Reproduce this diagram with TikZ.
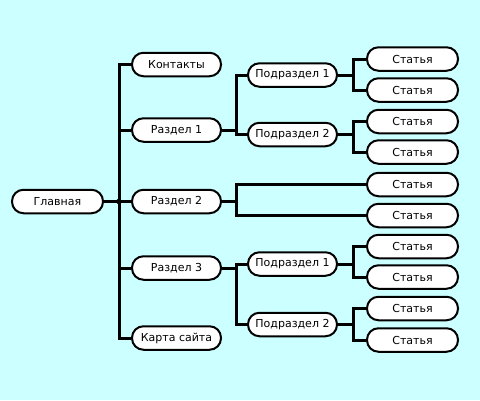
\documentclass[tikz,border=0pt]{standalone}
\usepackage{fontspec}
\setmainfont{DejaVu Sans}
\definecolor{bgcyan}{RGB}{204,255,255}
\begin{document}
\begin{tikzpicture}[x=1pt,y=-1pt,
  box/.style={draw=black, line width=2pt, fill=white, rounded corners=11.5pt,
    minimum height=23.5pt, inner sep=0pt, font=\fontsize{11}{13}\selectfont},
  sec/.style={box, minimum width=89pt},
  sub/.style={box, minimum width=89pt},
  art/.style={box, minimum width=91pt},
  link/.style={draw=black, line width=3pt, line join=miter}]
\useasboundingbox[fill=bgcyan] (0,0) rectangle (480,400);

\coordinate (tr) at (119,0);
\coordinate (ja) at (236.5,0);
\coordinate (jb) at (353,0);

\node[box, minimum width=91pt] (glav) at (57.5,201.5) {Главная};
\node[sec] (kont) at (176.5,64.5) {Контакты};
\node[sec] (r1) at (176.5,130) {Раздел 1};
\node[sec] (r2) at (176.5,201.5) {Раздел 2};
\node[sec] (r3) at (176.5,268) {Раздел 3};
\node[sec] (karta) at (176.5,338) {Карта сайта};

\node[sub] (p11) at (292.5,75) {Подраздел 1};
\node[sub] (p12) at (292.5,134.5) {Подраздел 2};
\node[sub] (p31) at (292.5,264) {Подраздел 1};
\node[sub] (p32) at (292.5,324.5) {Подраздел 2};

\node[art] (a1) at (412.5,59) {Статья};
\node[art] (a2) at (412.5,90) {Статья};
\node[art] (a3) at (412.5,121.5) {Статья};
\node[art] (a4) at (412.5,152) {Статья};
\node[art] (a5) at (412.5,184.5) {Статья};
\node[art] (a6) at (412.5,215.5) {Статья};
\node[art] (a7) at (412.5,246.5) {Статья};
\node[art] (a8) at (412.5,277) {Статья};
\node[art] (a9) at (412.5,308.5) {Статья};
\node[art] (a10) at (412.5,340) {Статья};

% trunk
\path[link] (kont.west) -- (kont.west -| tr) -- (karta.west -| tr) -- (karta.west);
\path[link] (r1.west) -- (r1.west -| tr);
\path[link] (r2.west) -- (r2.west -| tr);
\path[link] (r3.west) -- (r3.west -| tr);
\path[link] (glav.east) -- (glav.east -| tr);
\fill (glav.east -| tr) circle (2.8pt);

% Раздел 1
\path[link] (r1.east) -- (r1.east -| ja);
\path[link] (p11.west) -- (p11.west -| ja) -- (p12.west -| ja) -- (p12.west);
% Раздел 2
\path[link] (r2.east) -- (r2.east -| ja);
\path[link] (a5.west) -- (a5.west -| ja) -- (a6.west -| ja) -- (a6.west);
% Раздел 3
\path[link] (r3.east) -- (r3.east -| ja);
\path[link] (p31.west) -- (p31.west -| ja) -- (p32.west -| ja) -- (p32.west);

% Подразделы
\path[link] (p11.east) -- (p11.east -| jb);
\path[link] (a1.west) -- (a1.west -| jb) -- (a2.west -| jb) -- (a2.west);
\path[link] (p12.east) -- (p12.east -| jb);
\path[link] (a3.west) -- (a3.west -| jb) -- (a4.west -| jb) -- (a4.west);
\path[link] (p31.east) -- (p31.east -| jb);
\path[link] (a7.west) -- (a7.west -| jb) -- (a8.west -| jb) -- (a8.west);
\path[link] (p32.east) -- (p32.east -| jb);
\path[link] (a9.west) -- (a9.west -| jb) -- (a10.west -| jb) -- (a10.west);
\end{tikzpicture}
\end{document}
